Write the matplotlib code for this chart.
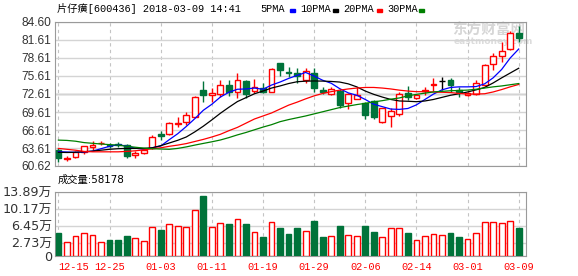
import matplotlib
matplotlib.use("Agg")
import matplotlib.pyplot as plt
from matplotlib.patches import Rectangle

# ── data ───────────────────────────────────────────────────────────────────
DATES = ["12-15", "12-18", "12-19", "12-20", "12-21", "12-22", "12-25", "12-26",
         "12-27", "12-28", "12-29", "01-02", "01-03", "01-04", "01-05", "01-08",
         "01-09", "01-10", "01-11", "01-12", "01-15", "01-16", "01-17", "01-18",
         "01-19", "01-22", "01-23", "01-24", "01-25", "01-26", "01-29", "01-30",
         "01-31", "02-01", "02-02", "02-05", "02-06", "02-07", "02-08", "02-09",
         "02-12", "02-13", "02-14", "02-22", "02-23", "02-26", "02-27", "02-28",
         "03-01", "03-02", "03-05", "03-06", "03-07", "03-08", "03-09"]

OPEN = [63.27, 61.80, 62.05, 62.90, 63.85, 64.40, 64.05, 64.30, 64.20, 62.50,
        62.85, 63.70, 65.90, 65.95, 67.60, 67.90, 68.80, 73.25, 72.40, 72.60,
        74.10, 73.00, 74.80, 73.05, 73.55, 73.00, 77.70, 76.30, 76.05, 74.95,
        76.15, 73.20, 72.60, 73.15, 71.15, 71.80, 71.05, 71.40, 68.00, 69.00,
        69.30, 72.80, 72.00, 73.10, 74.10, 74.70, 74.95, 73.20, 72.40, 72.60,
        74.10, 77.60, 78.95, 80.05, 82.80]
HIGH = [63.65, 62.30, 63.20, 64.00, 64.70, 64.80, 64.40, 64.60, 64.30, 63.20,
        63.50, 65.80, 66.50, 67.90, 68.80, 69.65, 72.20, 74.75, 73.55, 74.90,
        74.90, 76.10, 74.90, 75.05, 74.50, 77.00, 77.80, 77.15, 77.00, 76.90,
        77.00, 73.80, 73.80, 73.50, 72.70, 73.80, 71.30, 71.60, 70.30, 70.30,
        73.00, 73.90, 72.60, 73.80, 75.20, 75.38, 75.20, 73.80, 73.00, 75.00,
        77.60, 79.40, 81.30, 83.10, 83.90]
LOW = [61.32, 61.50, 61.90, 62.70, 63.30, 64.10, 63.60, 63.80, 61.90, 62.00,
       62.70, 63.40, 65.00, 65.80, 67.15, 67.40, 68.70, 71.30, 71.30, 72.15,
       72.30, 71.90, 72.00, 72.70, 72.70, 72.90, 75.60, 75.50, 74.40, 74.40,
       73.00, 72.60, 72.50, 70.20, 70.05, 71.80, 68.40, 68.40, 67.80, 67.05,
       69.00, 71.60, 71.80, 72.40, 73.15, 73.27, 73.00, 72.15, 72.20, 72.50,
       74.00, 76.60, 78.00, 79.90, 81.30]
CLOSE = [61.88, 61.90, 62.98, 63.90, 64.20, 64.50, 63.95, 64.20, 62.30, 62.80,
         63.30, 65.50, 65.60, 67.70, 67.80, 69.10, 72.05, 72.45, 72.80, 74.10,
         73.00, 74.90, 72.60, 73.70, 73.00, 76.70, 76.60, 76.10, 75.60, 76.40,
         73.55, 73.00, 73.40, 70.80, 72.60, 72.40, 69.10, 68.80, 70.20, 69.80,
         72.60, 72.05, 72.40, 73.30, 74.30, 74.70, 74.10, 73.00, 72.70, 74.40,
         77.40, 78.90, 79.80, 82.70, 81.90]
VOLUME = [4.99, 2.97, 4.28, 4.86, 4.49, 2.97, 3.41, 3.41, 4.28, 3.84,
          3.19, 6.23, 5.58, 6.81, 6.45, 6.23, 9.92, 13.02, 6.23, 7.10,
          6.88, 7.97, 6.88, 5.14, 4.06, 7.31, 6.08, 4.71, 6.08, 5.36,
          7.53, 4.13, 4.28, 6.45, 4.49, 4.28, 6.45, 5.14, 4.06, 6.01,
          6.01, 4.93, 3.33, 4.28, 4.71, 4.49, 4.93, 4.13, 3.62, 4.93,
          7.24, 7.24, 7.10, 7.53, 6.10]  # 万

MA5 = [63.00, 62.95, 62.90, 62.95, 63.10, 63.50, 63.90, 64.15, 63.95, 63.60,
       63.40, 63.65, 63.95, 65.00, 66.00, 67.20, 68.50, 69.90, 70.90, 72.10,
       72.90, 73.40, 73.45, 73.60, 73.40, 74.10, 74.60, 75.20, 75.70, 76.20,
       75.60, 74.90, 74.40, 73.50, 72.80, 72.40, 71.70, 70.90, 70.50, 70.10,
       70.05, 70.20, 70.80, 71.70, 72.60, 73.30, 73.70, 73.80, 73.80, 73.85,
       74.30, 75.30, 76.70, 78.60, 80.10]
MA10 = [62.90, 62.87, 62.90, 63.00, 63.10, 63.25, 63.40, 63.50, 63.55, 63.55,
        63.55, 63.65, 64.00, 64.45, 64.90, 65.45, 66.30, 67.25, 68.30, 69.40,
        70.40, 71.35, 72.00, 72.65, 73.10, 73.60, 73.95, 74.35, 74.65, 74.75,
        74.78, 74.76, 74.70, 74.60, 74.30, 73.80, 73.10, 72.55, 72.10, 71.70,
        71.45, 71.40, 71.33, 71.45, 71.70, 72.05, 72.40, 72.65, 72.95, 73.30,
        73.70, 74.45, 75.30, 76.10, 76.90]
MA20 = [63.55, 63.40, 63.25, 63.05, 62.98, 62.98, 62.98, 62.98, 63.05, 63.15,
        63.30, 63.50, 63.65, 63.90, 64.10, 64.35, 64.70, 65.05, 65.45, 65.90,
        66.50, 67.05, 67.75, 68.45, 68.95, 69.45, 70.10, 70.75, 71.25, 71.80,
        72.30, 72.70, 73.00, 73.25, 73.45, 73.60, 73.70, 73.70, 73.60, 73.45,
        73.25, 73.10, 73.00, 72.99, 72.95, 72.90, 72.85, 72.70, 72.60, 72.60,
        72.65, 72.95, 73.35, 73.80, 74.20]
MA30 = [64.93, 64.88, 64.75, 64.52, 64.40, 64.28, 64.18, 64.10, 63.90, 63.75,
        63.60, 63.50, 63.45, 63.40, 63.55, 63.80, 64.10, 64.38, 64.65, 64.95,
        65.35, 65.80, 66.20, 66.65, 67.10, 67.50, 68.00, 68.35, 68.65, 68.95,
        69.30, 69.65, 70.00, 70.35, 70.60, 70.85, 71.05, 71.30, 71.50, 71.75,
        71.95, 72.30, 72.55, 72.75, 72.95, 73.05, 73.15, 73.20, 73.26, 73.40,
        73.60, 73.80, 73.95, 74.15, 74.35]

PRICE_TICKS = [60.62, 63.61, 66.61, 69.61, 72.61, 75.61, 78.61, 81.61, 84.60]
PRICE_TICK_LABELS = ["60.62", "63.61", "66.61", "69.61", "72.61",
                     "75.61", "78.61", "81.61", "84.60"]
VOL_TICKS = [0, 2.73, 6.45, 10.17, 13.89]
VOL_TICK_LABELS = ["0", "2.73万", "6.45万", "10.17万", "13.89万"]
LAST_VOLUME = "58178"
TICK_EVERY = 6

# ── style ──────────────────────────────────────────────────────────────────
UP = "#ff0000"
DOWN = "#00733a"
GRID = "#d4d4d4"
FRAME = "#9a9a9a"
TEXT = "#333333"
MA_STYLE = [("5PMA", MA5, "#0000ff"), ("10PMA", MA10, "#000000"),
            ("20PMA", MA20, "#ff0000"), ("30PMA", MA30, "#008000")]
CJK = ["Noto Sans CJK SC", "DejaVu Sans"]
WIDE = ["DejaVu Sans", "Noto Sans CJK SC"]
MONO = ["Liberation Mono", "Noto Sans CJK SC"]

W, H = 578, 276
fig = plt.figure(figsize=(W / 100, H / 100), dpi=100)
fig.patch.set_facecolor("white")


def px_axes(left, top, right, bottom):
    return fig.add_axes([left / W, 1 - bottom / H, (right - left) / W, (bottom - top) / H])


ax = px_axes(55, 22, 525.7, 166)
axv = px_axes(55, 191.7, 525.7, 255.7)

n = len(CLOSE)
xs = list(range(n))
XLIM = (-0.40, n - 0.18)

# ── price panel ────────────────────────────────────────────────────────────
for i in xs:
    o, c = OPEN[i], CLOSE[i]
    if c > o:
        col, face = UP, "white"
    elif c < o:
        col, face = DOWN, DOWN
    else:
        col, face = "black", "black"
    ax.vlines(i, LOW[i], HIGH[i], color=col, lw=1, zorder=3)
    ax.bar(i, max(abs(c - o), 0.03), bottom=min(o, c), width=0.68,
           facecolor=face, edgecolor=col, lw=1, zorder=4)

for name, vals, color in MA_STYLE:
    ax.plot(xs, vals, color=color, lw=0.9, zorder=5)

ax.set_xlim(*XLIM)
ax.set_ylim(PRICE_TICKS[0], PRICE_TICKS[-1])
ax.set_yticks(PRICE_TICKS)
ax.set_yticklabels(PRICE_TICK_LABELS, family="Liberation Sans", fontsize=8.6, color=TEXT)
ax.set_xticks([])
ax.tick_params(axis="y", length=0, pad=3)
ax.yaxis.grid(True, color=GRID, lw=1, zorder=0)
ax.axhline(72.61, color="#a0a0a0", lw=1, zorder=1)
for s in ax.spines.values():
    s.set_color(FRAME)

# watermark
ax.text(452 / W, 1 - 30 / H, "东方财富网", transform=fig.transFigure, family=CJK,
        fontsize=10.5, fontweight="bold", color="#d6d6d6", va="center", zorder=1)
ax.text(454 / W, 1 - 41.5 / H, "eastmoney.com", transform=fig.transFigure,
        family="DejaVu Sans", fontsize=6.5, fontweight="bold", color="#dcdcdc",
        va="center", zorder=1)

# ── volume panel ───────────────────────────────────────────────────────────
for i in xs:
    up = CLOSE[i] >= OPEN[i]
    axv.bar(i, VOLUME[i], width=0.68, facecolor="white" if up else DOWN,
            edgecolor=UP if up else DOWN, lw=1, zorder=3)

axv.set_xlim(*XLIM)
axv.set_ylim(0, VOL_TICKS[-1])
axv.set_yticks(VOL_TICKS)
axv.set_yticklabels(VOL_TICK_LABELS, family=WIDE, fontsize=9.2, color=TEXT)
axv.yaxis.grid(True, color=GRID, lw=1, zorder=0)
tick_idx = xs[::TICK_EVERY]
axv.set_xticks(tick_idx)
axv.set_xticklabels([DATES[i] for i in tick_idx], family="Liberation Mono",
                    fontsize=7.4, color=UP)
axv.get_xticklabels()[0].set_ha("left")
axv.tick_params(axis="x", length=0, pad=4.3)
axv.tick_params(axis="y", length=0, pad=2)
for s in axv.spines.values():
    s.set_color(FRAME)

for a in (ax, axv):
    for i in tick_idx:
        a.axvline(i, color="#c4c4c4", lw=0.8, ls=(0, (3, 3)), zorder=1)

# ── header texts ───────────────────────────────────────────────────────────
fig.text(57 / W, 1 - 9 / H, "片仔癀[600436] 2018-03-09 14:41", family=MONO,
         fontsize=7.4, va="center", color="black")
legend_pos = [(260, 290), (300, 333), (343, 377), (387, 419)]
for (name, _, color), (tx, sx) in zip(MA_STYLE, legend_pos):
    fig.text(tx / W, 1 - 9 / H, name, family=MONO, fontsize=7.4, va="center")
    fig.add_artist(Rectangle((sx / W, 1 - 12 / H), 5 / W, 3 / H,
                             transform=fig.transFigure, color=color))
fig.text(58 / W, 1 - 180 / H, "成交量:" + LAST_VOLUME, family=WIDE,
         fontsize=7.4, va="center", color="black")

fig.savefig("out.png", dpi=100, facecolor="white")
